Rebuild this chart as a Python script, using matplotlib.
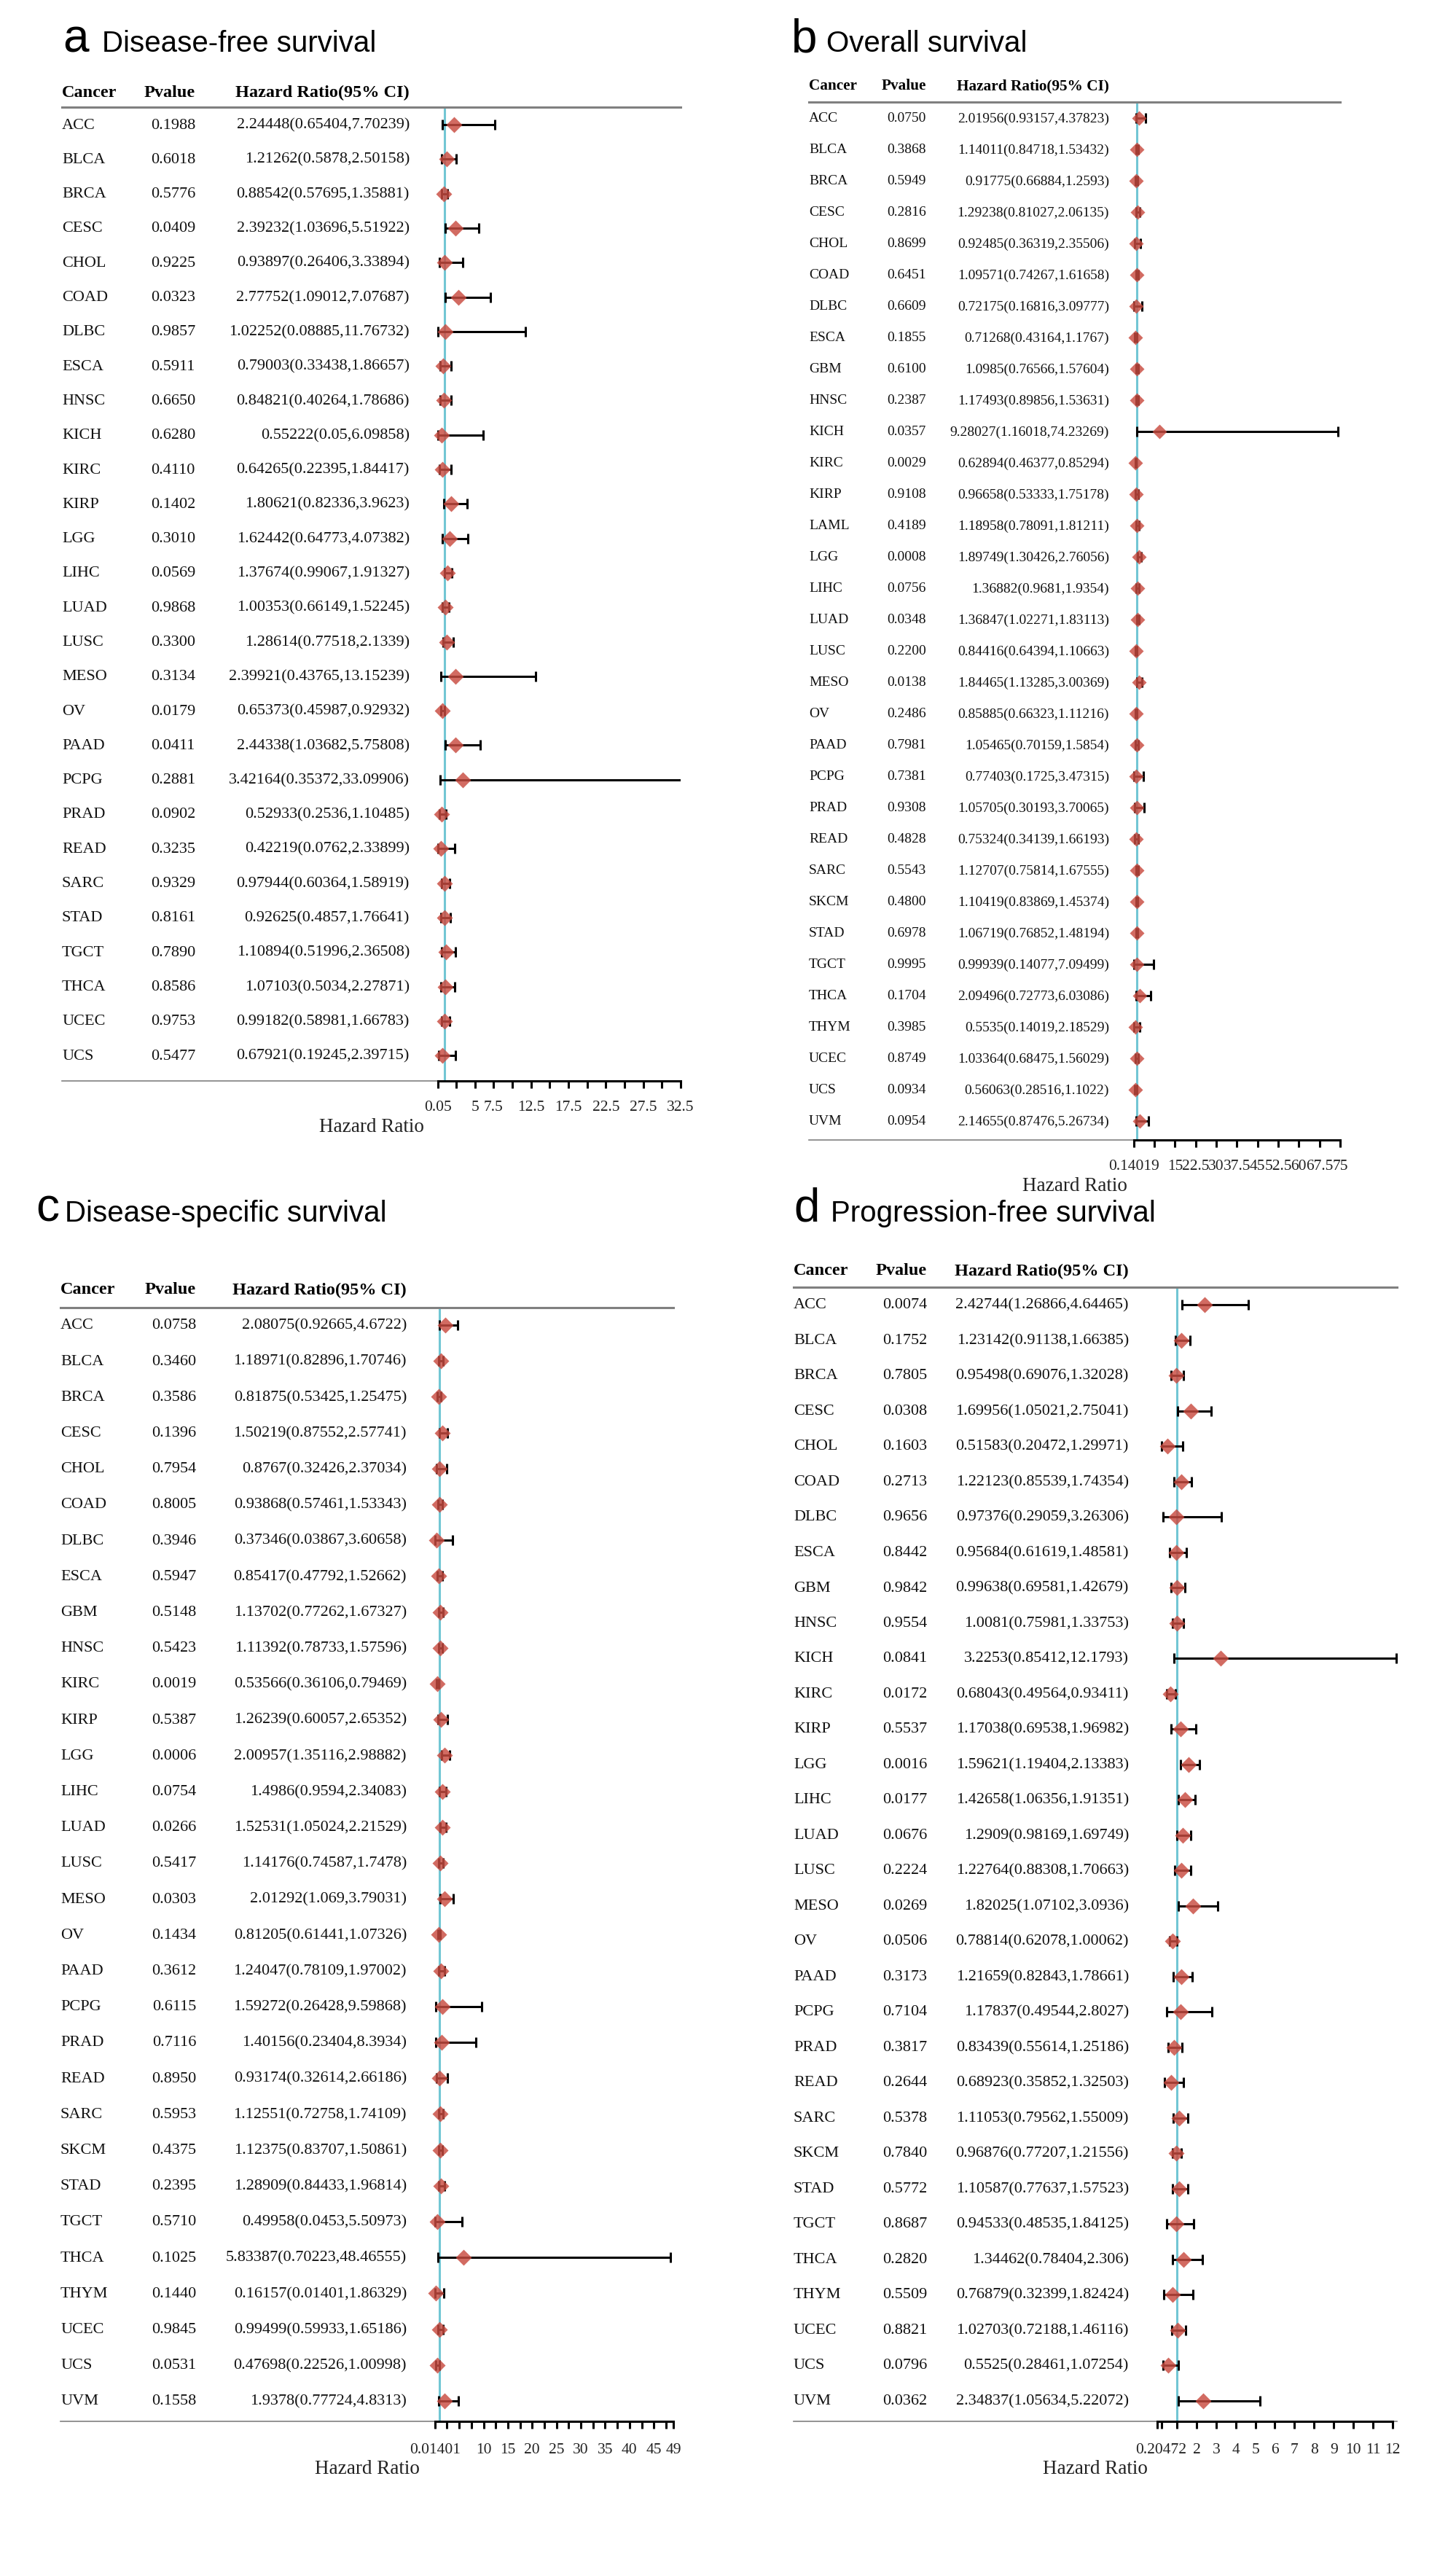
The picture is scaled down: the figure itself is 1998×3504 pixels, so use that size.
import numpy as np
import matplotlib
matplotlib.use("Agg")
import matplotlib.pyplot as plt
from matplotlib.transforms import blended_transform_factory

W, H, DPI = 1999, 3505, 100

# ---------------- data ----------------
# a  Disease-free survival
dfs_cancer = ["ACC", "BLCA", "BRCA", "CESC", "CHOL", "COAD", "DLBC", "ESCA", "HNSC", "KICH",
              "KIRC", "KIRP", "LGG", "LIHC", "LUAD", "LUSC", "MESO", "OV", "PAAD", "PCPG",
              "PRAD", "READ", "SARC", "STAD", "TGCT", "THCA", "UCEC", "UCS"]
dfs_pvalue = [0.1988, 0.6018, 0.5776, 0.0409, 0.9225, 0.0323, 0.9857, 0.5911, 0.6650, 0.6280,
              0.4110, 0.1402, 0.3010, 0.0569, 0.9868, 0.3300, 0.3134, 0.0179, 0.0411, 0.2881,
              0.0902, 0.3235, 0.9329, 0.8161, 0.7890, 0.8586, 0.9753, 0.5477]
dfs_hr = [2.24448, 1.21262, 0.88542, 2.39232, 0.93897, 2.77752, 1.02252, 0.79003, 0.84821, 0.55222,
          0.64265, 1.80621, 1.62442, 1.37674, 1.00353, 1.28614, 2.39921, 0.65373, 2.44338, 3.42164,
          0.52933, 0.42219, 0.97944, 0.92625, 1.10894, 1.07103, 0.99182, 0.67921]
dfs_lower = [0.65404, 0.5878, 0.57695, 1.03696, 0.26406, 1.09012, 0.08885, 0.33438, 0.40264, 0.05,
             0.22395, 0.82336, 0.64773, 0.99067, 0.66149, 0.77518, 0.43765, 0.45987, 1.03682, 0.35372,
             0.2536, 0.0762, 0.60364, 0.4857, 0.51996, 0.5034, 0.58981, 0.19245]
dfs_upper = [7.70239, 2.50158, 1.35881, 5.51922, 3.33894, 7.07687, 11.76732, 1.86657, 1.78686, 6.09858,
             1.84417, 3.9623, 4.07382, 1.91327, 1.52245, 2.1339, 13.15239, 0.92932, 5.75808, 33.09906,
             1.10485, 2.33899, 1.58919, 1.76641, 2.36508, 2.27871, 1.66783, 2.39715]
dfs_ticks = [0.05, 2.5, 5, 7.5, 10, 12.5, 15, 17.5, 20, 22.5, 25, 27.5, 30, 32.5]
dfs_ticklabels = ["0.05", "", "5", "7.5", "", "12.5", "", "17.5", "", "22.5", "", "27.5", "", "32.5"]

# b  Overall survival
os_cancer = ["ACC", "BLCA", "BRCA", "CESC", "CHOL", "COAD", "DLBC", "ESCA", "GBM", "HNSC", "KICH",
             "KIRC", "KIRP", "LAML", "LGG", "LIHC", "LUAD", "LUSC", "MESO", "OV", "PAAD", "PCPG",
             "PRAD", "READ", "SARC", "SKCM", "STAD", "TGCT", "THCA", "THYM", "UCEC", "UCS", "UVM"]
os_pvalue = [0.0750, 0.3868, 0.5949, 0.2816, 0.8699, 0.6451, 0.6609, 0.1855, 0.6100, 0.2387, 0.0357,
             0.0029, 0.9108, 0.4189, 0.0008, 0.0756, 0.0348, 0.2200, 0.0138, 0.2486, 0.7981, 0.7381,
             0.9308, 0.4828, 0.5543, 0.4800, 0.6978, 0.9995, 0.1704, 0.3985, 0.8749, 0.0934, 0.0954]
os_hr = [2.01956, 1.14011, 0.91775, 1.29238, 0.92485, 1.09571, 0.72175, 0.71268, 1.0985, 1.17493, 9.28027,
         0.62894, 0.96658, 1.18958, 1.89749, 1.36882, 1.36847, 0.84416, 1.84465, 0.85885, 1.05465, 0.77403,
         1.05705, 0.75324, 1.12707, 1.10419, 1.06719, 0.99939, 2.09496, 0.5535, 1.03364, 0.56063, 2.14655]
os_lower = [0.93157, 0.84718, 0.66884, 0.81027, 0.36319, 0.74267, 0.16816, 0.43164, 0.76566, 0.89856, 1.16018,
            0.46377, 0.53333, 0.78091, 1.30426, 0.9681, 1.02271, 0.64394, 1.13285, 0.66323, 0.70159, 0.1725,
            0.30193, 0.34139, 0.75814, 0.83869, 0.76852, 0.14077, 0.72773, 0.14019, 0.68475, 0.28516, 0.87476]
os_upper = [4.37823, 1.53432, 1.2593, 2.06135, 2.35506, 1.61658, 3.09777, 1.1767, 1.57604, 1.53631, 74.23269,
            0.85294, 1.75178, 1.81211, 2.76056, 1.9354, 1.83113, 1.10663, 3.00369, 1.11216, 1.5854, 3.47315,
            3.70065, 1.66193, 1.67555, 1.45374, 1.48194, 7.09499, 6.03086, 2.18529, 1.56029, 1.1022, 5.26734]
os_ticks = [0.14019, 7.5, 15, 22.5, 30, 37.5, 45, 52.5, 60, 67.5, 75]
os_ticklabels = ["0.14019", "", "15", "22.5", "30", "37.5", "45", "52.5", "60", "67.5", "75"]

# c  Disease-specific survival
dss_cancer = ["ACC", "BLCA", "BRCA", "CESC", "CHOL", "COAD", "DLBC", "ESCA", "GBM", "HNSC", "KIRC",
              "KIRP", "LGG", "LIHC", "LUAD", "LUSC", "MESO", "OV", "PAAD", "PCPG", "PRAD", "READ",
              "SARC", "SKCM", "STAD", "TGCT", "THCA", "THYM", "UCEC", "UCS", "UVM"]
dss_pvalue = [0.0758, 0.3460, 0.3586, 0.1396, 0.7954, 0.8005, 0.3946, 0.5947, 0.5148, 0.5423, 0.0019,
              0.5387, 0.0006, 0.0754, 0.0266, 0.5417, 0.0303, 0.1434, 0.3612, 0.6115, 0.7116, 0.8950,
              0.5953, 0.4375, 0.2395, 0.5710, 0.1025, 0.1440, 0.9845, 0.0531, 0.1558]
dss_hr = [2.08075, 1.18971, 0.81875, 1.50219, 0.8767, 0.93868, 0.37346, 0.85417, 1.13702, 1.11392, 0.53566,
          1.26239, 2.00957, 1.4986, 1.52531, 1.14176, 2.01292, 0.81205, 1.24047, 1.59272, 1.40156, 0.93174,
          1.12551, 1.12375, 1.28909, 0.49958, 5.83387, 0.16157, 0.99499, 0.47698, 1.9378]
dss_lower = [0.92665, 0.82896, 0.53425, 0.87552, 0.32426, 0.57461, 0.03867, 0.47792, 0.77262, 0.78733, 0.36106,
             0.60057, 1.35116, 0.9594, 1.05024, 0.74587, 1.069, 0.61441, 0.78109, 0.26428, 0.23404, 0.32614,
             0.72758, 0.83707, 0.84433, 0.0453, 0.70223, 0.01401, 0.59933, 0.22526, 0.77724]
dss_upper = [4.6722, 1.70746, 1.25475, 2.57741, 2.37034, 1.53343, 3.60658, 1.52662, 1.67327, 1.57596, 0.79469,
             2.65352, 2.98882, 2.34083, 2.21529, 1.7478, 3.79031, 1.07326, 1.97002, 9.59868, 8.3934, 2.66186,
             1.74109, 1.50861, 1.96814, 5.50973, 48.46555, 1.86329, 1.65186, 1.00998, 4.8313]
dss_ticks = [0.01401, 2.5, 5, 7.5, 10, 12.5, 15, 17.5, 20, 22.5, 25, 27.5, 30, 32.5, 35, 37.5,
             40, 42.5, 45, 47.5, 49]
dss_ticklabels = ["0.01401", "", "", "", "10", "", "15", "", "20", "", "25", "", "30", "", "35", "",
                  "40", "", "45", "", "49"]

# d  Progression-free survival
pfs_cancer = ["ACC", "BLCA", "BRCA", "CESC", "CHOL", "COAD", "DLBC", "ESCA", "GBM", "HNSC", "KICH",
              "KIRC", "KIRP", "LGG", "LIHC", "LUAD", "LUSC", "MESO", "OV", "PAAD", "PCPG", "PRAD",
              "READ", "SARC", "SKCM", "STAD", "TGCT", "THCA", "THYM", "UCEC", "UCS", "UVM"]
pfs_pvalue = [0.0074, 0.1752, 0.7805, 0.0308, 0.1603, 0.2713, 0.9656, 0.8442, 0.9842, 0.9554, 0.0841,
              0.0172, 0.5537, 0.0016, 0.0177, 0.0676, 0.2224, 0.0269, 0.0506, 0.3173, 0.7104, 0.3817,
              0.2644, 0.5378, 0.7840, 0.5772, 0.8687, 0.2820, 0.5509, 0.8821, 0.0796, 0.0362]
pfs_hr = [2.42744, 1.23142, 0.95498, 1.69956, 0.51583, 1.22123, 0.97376, 0.95684, 0.99638, 1.0081, 3.2253,
          0.68043, 1.17038, 1.59621, 1.42658, 1.2909, 1.22764, 1.82025, 0.78814, 1.21659, 1.17837, 0.83439,
          0.68923, 1.11053, 0.96876, 1.10587, 0.94533, 1.34462, 0.76879, 1.02703, 0.5525, 2.34837]
pfs_lower = [1.26866, 0.91138, 0.69076, 1.05021, 0.20472, 0.85539, 0.29059, 0.61619, 0.69581, 0.75981, 0.85412,
             0.49564, 0.69538, 1.19404, 1.06356, 0.98169, 0.88308, 1.07102, 0.62078, 0.82843, 0.49544, 0.55614,
             0.35852, 0.79562, 0.77207, 0.77637, 0.48535, 0.78404, 0.32399, 0.72188, 0.28461, 1.05634]
pfs_upper = [4.64465, 1.66385, 1.32028, 2.75041, 1.29971, 1.74354, 3.26306, 1.48581, 1.42679, 1.33753, 12.1793,
             0.93411, 1.96982, 2.13383, 1.91351, 1.69749, 1.70663, 3.0936, 1.00062, 1.78661, 2.8027, 1.25186,
             1.32503, 1.55009, 1.21556, 1.57523, 1.84125, 2.306, 1.82424, 1.46116, 1.07254, 5.22072]
pfs_ticks = [0, 0.20472, 1, 2, 3, 4, 5, 6, 7, 8, 9, 10, 11, 12]
pfs_ticklabels = ["", "0.20472", "", "2", "3", "4", "5", "6", "7", "8", "9", "10", "11", "12"]

# ---------------- style ----------------
SERIF = ["Liberation Serif", "DejaVu Serif"]
SANS = ["Liberation Sans", "DejaVu Sans"]
CYAN = "#72C6D4"
RED = "#C84B40"
GRAY = "#808080"

fig = plt.figure(figsize=(W / DPI, H / DPI), dpi=DPI)
fig.patch.set_facecolor("white")


def fx(px):
    return px / W


def fy(py):
    return 1 - py / H


def draw_panel(letter, title, cancer, pvalue, hr, lower, upper, ticks, ticklabels, g):
    hr = np.asarray(hr)
    lower = np.asarray(lower)
    upper = np.asarray(upper)
    n = len(cancer)
    rows = np.arange(n)

    ax = fig.add_axes([fx(g["x0"]), fy(g["yaxis"]), fx(g["x1"] - g["x0"]),
                       (g["yaxis"] - g["yline"]) / H])
    ax.set_xlim(1 - (g["ref"] - g["x0"]) / g["ppu"], 1 + (g["x1"] - g["ref"]) / g["ppu"])
    ax.set_ylim((g["yaxis"] - g["y0"]) / g["sp"], (g["yline"] - g["y0"]) / g["sp"])
    ax.patch.set_alpha(0)

    # reference line, CI bars, diamonds
    ax.axvline(1, color=CYAN, lw=2.2, zorder=1)
    ax.errorbar(hr, rows, xerr=[hr - lower, upper - hr], fmt="none", ecolor="black",
                elinewidth=2.2, capsize=4.8, capthick=2.2, zorder=2)
    ax.plot(hr, rows, "D", ms=g["ms"], color=RED, alpha=0.82, mec="none", zorder=3)

    # spines
    for s in ("left", "right"):
        ax.spines[s].set_visible(False)
    ax.spines["top"].set_color(GRAY)
    ax.spines["top"].set_linewidth(2.2)
    ax.spines["bottom"].set_color("black")
    ax.spines["bottom"].set_linewidth(2.2)
    ax.spines["bottom"].set_bounds(ticks[0], ticks[-1])
    ax.plot([0, 1], [0, 0], transform=ax.transAxes, color=GRAY, lw=1.2, clip_on=False, zorder=0)

    ax.set_yticks([])
    ax.set_xticks(ticks)
    ax.set_xticklabels(ticklabels, family=SERIF, color="#222222")
    ax.tick_params(axis="x", direction="out", length=7, width=2.2, pad=g["pad"],
                   labelsize=g["tfs"])
    ax.set_xlabel("Hazard Ratio", family=SERIF, fontsize=g["lfs"], color="#222222", labelpad=3)

    # table text
    tr = blended_transform_factory(fig.transFigure, ax.transData)
    yh = (g["yhead"] - g["y0"]) / g["sp"]
    hk = dict(transform=tr, family=SERIF, fontsize=g["hfs"], fontweight="bold", va="center")
    ax.text(fx(g["x0"]), yh, "Cancer", ha="left", **hk)
    ax.text(fx(g["xp"]), yh, "Pvalue", ha="right", **hk)
    ax.text(fx(g["xh"]), yh, "Hazard Ratio(95% CI)", ha="right", **hk)
    rk = dict(transform=tr, family=SERIF, fontsize=g["rfs"], va="center", color="#111111")
    for i in range(n):
        ax.text(fx(g["x0"]), i, cancer[i], ha="left", **rk)
        ax.text(fx(g["xp"]), i, f"{pvalue[i]:.4f}", ha="right", **rk)
        ax.text(fx(g["xh"]), i, f"{hr[i]}({lower[i]},{upper[i]})", ha="right", **rk)

    # panel title
    fig.text(fx(g["xl"]), fy(g["ytitle"]), letter, family=SANS, fontsize=46, va="baseline")
    fig.text(fx(g["xt"]), fy(g["ytitle"]), title, family=SANS, fontsize=29, va="baseline")
    return ax


geo_a = dict(x0=85, x1=934, ref=612, ppu=10.3, yline=148, y0=172, sp=47.3, yaxis=1484,
             yhead=127, xp=268, xh=562, xl=86, xt=140, ytitle=71, rfs=16, hfs=17.5,
             tfs=15.5, lfs=19.5, pad=12, ms=11.5)
geo_b = dict(x0=1110, x1=1839, ref=1560, ppu=3.78, yline=141, y0=163, sp=43, yaxis=1565,
             yhead=118, xp=1271, xh=1522, xl=1086, xt=1134, ytitle=71, rfs=14, hfs=15.3,
             tfs=15.5, lfs=19.5, pad=12, ms=10.5)
geo_c = dict(x0=83, x1=924, ref=605, ppu=6.7, yline=1795, y0=1819, sp=49.2, yaxis=3323,
             yhead=1770, xp=269, xh=558, xl=49, xt=89, ytitle=1676, rfs=16, hfs=17.5,
             tfs=15.5, lfs=19.5, pad=14, ms=11.5)
geo_d = dict(x0=1089, x1=1917, ref=1615, ppu=26.9, yline=1767, y0=1791, sp=48.5, yaxis=3323,
             yhead=1744, xp=1272, xh=1549, xl=1089, xt=1140, ytitle=1676, rfs=16, hfs=17.5,
             tfs=15.5, lfs=19.5, pad=14, ms=11.5)

draw_panel("a", "Disease-free survival", dfs_cancer, dfs_pvalue, dfs_hr, dfs_lower, dfs_upper,
           dfs_ticks, dfs_ticklabels, geo_a)
draw_panel("b", "Overall survival", os_cancer, os_pvalue, os_hr, os_lower, os_upper,
           os_ticks, os_ticklabels, geo_b)
draw_panel("c", "Disease-specific survival", dss_cancer, dss_pvalue, dss_hr, dss_lower, dss_upper,
           dss_ticks, dss_ticklabels, geo_c)
draw_panel("d", "Progression-free survival", pfs_cancer, pfs_pvalue, pfs_hr, pfs_lower, pfs_upper,
           pfs_ticks, pfs_ticklabels, geo_d)

fig.savefig("out.png", dpi=DPI, facecolor="white")
